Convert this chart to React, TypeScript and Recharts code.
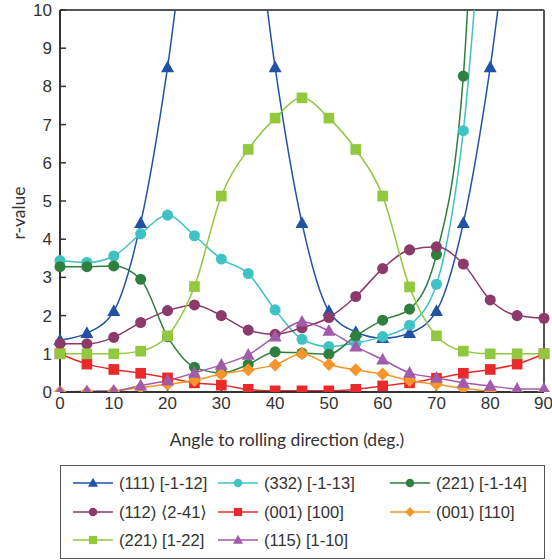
import { LineChart, Line, XAxis, YAxis, ReferenceLine, Label } from "recharts";

// angle to rolling direction (deg.)
const angles = [0, 5, 10, 15, 20, 25, 30, 35, 40, 45, 50, 55, 60, 65, 70, 75, 80, 85, 90];

// r-values (points above 10 run off the top of the plot)
const r111 = [1.36, 1.54, 2.12, 4.42, 8.5, 14, 18, 14, 8.5, 4.42, 2.12, 1.57, 1.41, 1.54, 2.12, 4.42, 8.5, 14, 18];
const r332 = [3.44, 3.39, 3.56, 4.14, 4.63, 4.09, 3.48, 3.1, 2.15, 1.38, 1.19, 1.28, 1.45, 1.75, 2.82, 6.84, 15, 20, 23];
const r221a = [3.28, 3.28, 3.3, 2.95, 1.45, 0.65, 0.5, 0.72, 1.05, 1.02, 0.99, 1.47, 1.88, 2.17, 3.6, 8.27, 22, 30, 35];
const r112 = [1.27, 1.26, 1.43, 1.82, 2.13, 2.28, 2.0, 1.62, 1.51, 1.68, 1.95, 2.5, 3.23, 3.72, 3.8, 3.35, 2.41, 2.0, 1.93];
const r001a = [1.0, 0.73, 0.59, 0.49, 0.37, 0.24, 0.18, 0.07, 0.03, 0.03, 0.03, 0.07, 0.16, 0.24, 0.36, 0.49, 0.59, 0.73, 1.0];
const r001b = [0.0, 0.0, 0.02, 0.12, 0.2, 0.3, 0.47, 0.58, 0.71, 1.0, 0.72, 0.58, 0.47, 0.3, 0.2, 0.1, 0.02, 0.0, 0.0];
const r221b = [1.0, 1.0, 1.0, 1.07, 1.47, 2.76, 5.13, 6.35, 7.17, 7.7, 7.17, 6.35, 5.13, 2.75, 1.47, 1.07, 1.0, 1.0, 1.0];
const r115 = [0.0, 0.02, 0.03, 0.17, 0.3, 0.5, 0.71, 0.97, 1.45, 1.84, 1.6, 1.19, 0.85, 0.5, 0.37, 0.24, 0.16, 0.08, 0.08];

const xTicks = [0, 10, 20, 30, 40, 50, 60, 70, 80, 90];
const yTicks = [0, 1, 2, 3, 4, 5, 6, 7, 8, 9, 10];

type Shape = "triangle" | "circle" | "square" | "diamond";

const series: { key: string; name: string; color: string; shape: Shape; values: number[] }[] = [
  { key: "r111", name: "(111) [-1-12]", color: "#2152a6", shape: "triangle", values: r111 },
  { key: "r332", name: "(332) [-1-13]", color: "#3fc2c4", shape: "circle", values: r332 },
  { key: "r221a", name: "(221) [-1-14]", color: "#2f7f3e", shape: "circle", values: r221a },
  { key: "r112", name: "(112) \u27e82-41\u27e9", color: "#8b3a6a", shape: "circle", values: r112 },
  { key: "r001a", name: "(001) [100]", color: "#ea2a2a", shape: "square", values: r001a },
  { key: "r001b", name: "(001) [110]", color: "#f7952a", shape: "diamond", values: r001b },
  { key: "r221b", name: "(221) [1-22]", color: "#92c83e", shape: "square", values: r221b },
  { key: "r115", name: "(115) [1-10]", color: "#a15bab", shape: "triangle", values: r115 },
];

const data = angles.map((a, i) => {
  const row: Record<string, number> = { angle: a };
  series.forEach((s) => (row[s.key] = s.values[i]));
  return row;
});

const FONT = "'Liberation Sans', Arial, 'DejaVu Sans', sans-serif";

function Marker({ cx, cy, shape, color, size }: { cx: number; cy: number; shape: Shape; color: string; size: number }) {
  if (cx == null || cy == null || isNaN(cx) || isNaN(cy)) return null;
  const h = size / 2;
  if (shape === "triangle") {
    return (
      <polygon
        points={`${cx},${cy - h * 1.05} ${cx + h},${cy + h * 0.75} ${cx - h},${cy + h * 0.75}`}
        fill={color}
      />
    );
  }
  if (shape === "circle") return <circle cx={cx} cy={cy} r={h * 0.85} fill={color} />;
  if (shape === "square") {
    const q = h * 0.82;
    return <rect x={cx - q} y={cy - q} width={q * 2} height={q * 2} fill={color} />;
  }
  return <polygon points={`${cx},${cy - h} ${cx + h},${cy} ${cx},${cy + h} ${cx - h},${cy}`} fill={color} />;
}

const legendCols = [12, 157, 329];
const legendRows = [17, 46, 74];

export default function App() {
  return (
    <div style={{ position: "absolute", left: 0, top: 0, width: 552, height: 560, background: "#fff", fontFamily: FONT }}>
      <LineChart width={552} height={460} data={data} margin={{ top: 10, right: 8, left: 0, bottom: 0 }}>
        <XAxis
          dataKey="angle"
          type="number"
          domain={[0, 90]}
          ticks={xTicks}
          height={68}
          tickSize={-6}
          tickMargin={11}
          axisLine={{ stroke: "#333", strokeWidth: 2 }}
          tickLine={{ stroke: "#333", strokeWidth: 1.5 }}
          tick={{ fill: "#333", fontSize: 17, fontFamily: FONT }}
        >
          <Label
            content={(p: any) => {
              const vb = p.viewBox;
              return (
                <text x={vb.x + vb.width / 2 - 15} y={446} textAnchor="middle" fill="#333" fontSize={17.5} fontFamily="Lato, 'Open Sans', sans-serif">
                  Angle to rolling direction (deg.)
                </text>
              );
            }}
          />
        </XAxis>
        <YAxis
          type="number"
          domain={[0, 10]}
          ticks={yTicks}
          allowDataOverflow
          width={60}
          tickSize={-6}
          tickMargin={14}
          axisLine={{ stroke: "#333", strokeWidth: 2 }}
          tickLine={{ stroke: "#333", strokeWidth: 1.5 }}
          tick={{ fill: "#333", fontSize: 17, fontFamily: FONT }}
        >
          <Label
            content={(p: any) => {
              const vb = p.viewBox;
              const cx = 18;
              const cy = vb.y + vb.height / 2 + 12;
              return (
                <text x={cx} y={cy} transform={`rotate(-90 ${cx} ${cy})`} textAnchor="middle" dominantBaseline="central" fill="#333" fontSize={17.5} fontFamily="Lato, 'Open Sans', sans-serif">
                  r-value
                </text>
              );
            }}
          />
        </YAxis>
        <ReferenceLine y={10} stroke="#555" strokeWidth={2} />
        <ReferenceLine x={90} stroke="#555" strokeWidth={2} />
        {series.map((s) => (
          <Line
            key={s.key}
            dataKey={s.key}
            name={s.name}
            type="monotone"
            stroke={s.color}
            strokeWidth={1.5}
            isAnimationActive={false}
            activeDot={false}
            dot={(p: any) => <Marker key={`${s.key}-${p.index}`} cx={p.cx} cy={p.cy} shape={s.shape} color={s.color} size={13} />}
          />
        ))}
      </LineChart>
      <div
        style={{
          position: "absolute",
          left: 60,
          top: 465,
          width: 485,
          height: 94,
          boxSizing: "border-box",
          border: "1.5px solid #555",
        }}
      >
        {series.map((s, i) => (
          <div
            key={s.key}
            style={{
              position: "absolute",
              left: legendCols[i % 3],
              top: legendRows[Math.floor(i / 3)] - 11,
              height: 22,
              zIndex: 20 - i,
              display: "flex",
              alignItems: "center",
              whiteSpace: "nowrap",
            }}
          >
            <svg width={40} height={16} style={{ flex: "none" }}>
              <line x1={0} y1={8} x2={40} y2={8} stroke={s.color} strokeWidth={1.5} />
              <Marker cx={20} cy={8} shape={s.shape} color={s.color} size={10} />
            </svg>
            <span style={{ marginLeft: 6, fontSize: 16.5, color: "#333", fontFamily: FONT, flex: "none" }}>{s.name}</span>
          </div>
        ))}
      </div>
    </div>
  );
}
